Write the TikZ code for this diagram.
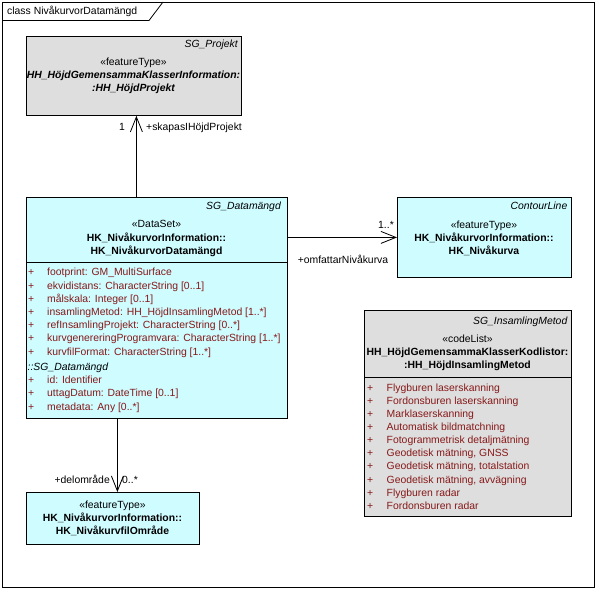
\documentclass[tikz,border=0pt]{standalone}
\usepackage{fontspec}
\setmainfont{Liberation Sans}
\usepackage{tikz}
\usetikzlibrary{arrows.meta}
\definecolor{featureCyan}{RGB}{206,252,255}
\definecolor{projectGray}{RGB}{222,222,222}
\definecolor{attrRed}{RGB}{135,25,25}
\colorlet{classFill}{featureCyan}
\colorlet{codeFill}{projectGray}
\colorlet{attrText}{attrRed}

\begin{document}
\begin{tikzpicture}[
  x=1pt, y=-1pt,
  every node/.style={
    inner sep=0pt,
    font=\fontsize{10.4}{12}\selectfont,
  },
  classbox/.style={
    draw=black,
    line width=0.8pt,
    anchor=north west,
    fill=classFill,
  },
  graybox/.style={
    classbox,
    fill=codeFill,
  },
  pkgname/.style={
    anchor=mid east,
    font=\fontsize{10.4}{12}\selectfont\itshape,
  },
  stereo/.style={
    anchor=mid,
  },
  classname/.style={
    anchor=mid,
    font=\fontsize{10.4}{12}\selectfont\bfseries,
  },
  grayname/.style={
    anchor=mid,
    font=\fontsize{10.4}{12}\selectfont\bfseries\itshape,
  },
  attr/.style={
    anchor=mid west,
    text=attrText,
  },
  role/.style={
    anchor=mid,
  },
  assoc/.style={
    line width=0.8pt,
    -{Straight Barb[length=15pt,width=12pt]},
  }
]
\useasboundingbox (0,0) rectangle (596,589);
% frame
\draw[line width=0.8pt] (2,2) rectangle (594,587);
\draw[line width=0.8pt] (2,20.5) -- (149,20.5) -- (163,2);
\node[anchor=mid west,name=title] at (7,11.5) {class NivåkurvorDatamängd};

% SG_Projekt
\node[graybox,minimum width=215pt,minimum height=79pt,name=projekt] at (26,36) {};
\node[pkgname,name=projektPkg] at (238,44.5) {SG\_Projekt};
\node[stereo,name=projektStereo] at (133.5,63) {«featureType»};
\node[grayname,name=projektName1] at (133.5,76) {HH\_HöjdGemensammaKlasserInformation:};
\node[grayname,name=projektName2] at (133.5,89) {:HH\_HöjdProjekt};

% SG_Datamängd
\node[classbox,minimum width=261pt,minimum height=221pt,name=datamangd] at (26,197) {};
\draw[line width=0.8pt] (datamangd.west |- 0,262.7) -- (datamangd.east |- 0,262.7);
\node[pkgname,name=datamangdPkg] at (281,207) {SG\_Datamängd};
\node[stereo,name=datamangdStereo] at (156.5,225) {«DataSet»};
\node[classname,name=datamangdName1] at (156.5,239) {HK\_NivåkurvorInformation::};
\node[classname,name=datamangdName2] at (156.5,252) {HK\_NivåkurvorDatamängd};
\foreach[count=\k,evaluate=\k as \y using 273.3+13.2*(\k-1)] \t in {
  footprint: GM\_MultiSurface,
  ekvidistans: CharacterString [0..1],
  målskala: Integer [0..1],
  insamlingMetod: HH\_HöjdInsamlingMetod [1..*],
  refInsamlingProjekt: CharacterString [0..*],
  kurvgenereringProgramvara: CharacterString [1..*],
  kurvfilFormat: CharacterString [1..*]} {
  \node[attr,name=dmPlus\k] at (28,\y) {+};
  \node[attr,name=dmAttr\k] at (47,\y) {\t};
}
\node[anchor=mid west,font=\fontsize{10.4}{12}\selectfont\itshape,name=dmInherit] at (27.5,367.7) {::SG\_Datamängd};
\foreach[count=\k,evaluate=\k as \y using 381+13.2*(\k-1)] \t in {
  id: Identifier,
  uttagDatum: DateTime [0..1],
  metadata: Any [0..*]} {
  \node[attr,name=sgPlus\k] at (28,\y) {+};
  \node[attr,name=sgAttr\k] at (47,\y) {\t};
}

% ContourLine
\node[classbox,minimum width=174pt,minimum height=80pt,name=contour] at (397,197) {};
\node[pkgname,name=contourPkg] at (567.5,207) {ContourLine};
\node[stereo,name=contourStereo] at (484,225.7) {«featureType»};
\node[classname,name=contourName1] at (484,238.5) {HK\_NivåkurvorInformation::};
\node[classname,name=contourName2] at (484,251.5) {HK\_Nivåkurva};

% SG_InsamlingMetod
\node[graybox,minimum width=207pt,minimum height=206pt,name=metod] at (364,310) {};
\draw[line width=0.8pt] (metod.west |- 0,377) -- (metod.east |- 0,377);
\node[pkgname,name=metodPkg] at (567.5,322) {SG\_InsamlingMetod};
\node[stereo,name=metodStereo] at (467.5,340) {«codeList»};
\node[classname,name=metodName1] at (467.5,353) {HH\_HöjdGemensammaKlasserKodlistor:};
\node[classname,name=metodName2] at (467.5,366) {:HH\_HöjdInsamlingMetod};
\foreach[count=\k,evaluate=\k as \y using 389+13.05*(\k-1)] \t in {
  Flygburen laserskanning,
  Fordonsburen laserskanning,
  Marklaserskanning,
  Automatisk bildmatchning,
  Fotogrammetrisk detaljmätning,
  {Geodetisk mätning, GNSS},
  {Geodetisk mätning, totalstation},
  {Geodetisk mätning, avvägning},
  Flygburen radar,
  Fordonsburen radar} {
  \node[attr,name=metodPlus\k] at (367,\y) {+};
  \node[attr,name=metodItem\k] at (386.5,\y) {\t};
}

% HK_NivåkurvfilOmråde
\node[classbox,minimum width=173pt,minimum height=52pt,name=omrade] at (26,492) {};
\node[stereo,name=omradeStereo] at (112.5,505.7) {«featureType»};
\node[classname,name=omradeName1] at (112.5,518.7) {HK\_NivåkurvorInformation::};
\node[classname,name=omradeName2] at (112.5,531.5) {HK\_NivåkurvfilOmråde};

% associations
\draw[assoc] ([xshift=-20.5pt]datamangd.north) -- ([xshift=-20.5pt]datamangd.north |- projekt.south);
\node[role,name=projektMult] at (122,127.5) {1};
\node[anchor=mid west,name=projektRole] at (146,127.5) {+skapasIHöjdProjekt};

\draw[assoc] (datamangd.east |- contour.west) -- (contour.west);
\node[role,name=contourMult] at (386,226) {1..*};
\node[role,name=contourRole] at (343,260.7) {+omfattarNivåkurva};

\draw[assoc] ([xshift=-39.5pt]datamangd.south) -- ([xshift=-39.5pt]datamangd.south |- omrade.north);
\node[anchor=mid east,name=omradeRole] at (110,481) {+delområde};
\node[anchor=mid west,name=omradeMult] at (122,481) {0..*};
\end{tikzpicture}
\end{document}
